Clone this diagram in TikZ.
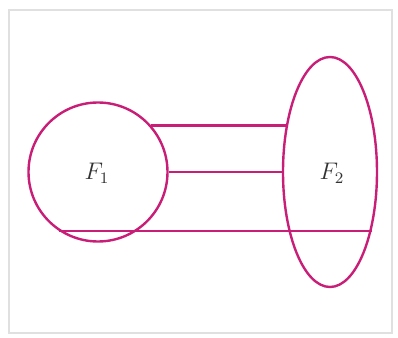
\documentclass[tikz,border=0pt]{standalone}
\usetikzlibrary{shapes.geometric}
\begin{document}
\definecolor{setline}{RGB}{200,30,120}
\begin{tikzpicture}[x=0.5pt,y=-0.5pt, every node/.style={font=\large},
  set/.style={draw=setline,line width=1.2pt,inner sep=0pt},
  link/.style={draw=setline,line width=1.2pt}]
\useasboundingbox (0,0) rectangle (398,338);
\draw[black!12,line width=1pt] (9,10) rectangle (392,333);
\node[set,circle,minimum size=69.5pt] (F1) at (98,172) {};
\node[set,ellipse,minimum width=47pt,minimum height=115pt] (F2) at (330,172) {};
\node[text=black!80] (l1) at (97,173) {$F_1$};
\node[text=black!80] (l2) at (332,173) {$F_2$};
\draw[link] (F1.41) -- (F1.41 -| F2.133);
\draw[link] (F1.east) -- (F2.west);
\draw[link] (F1.237) -- (F1.237 -| F2.306);
\end{tikzpicture}
\end{document}
